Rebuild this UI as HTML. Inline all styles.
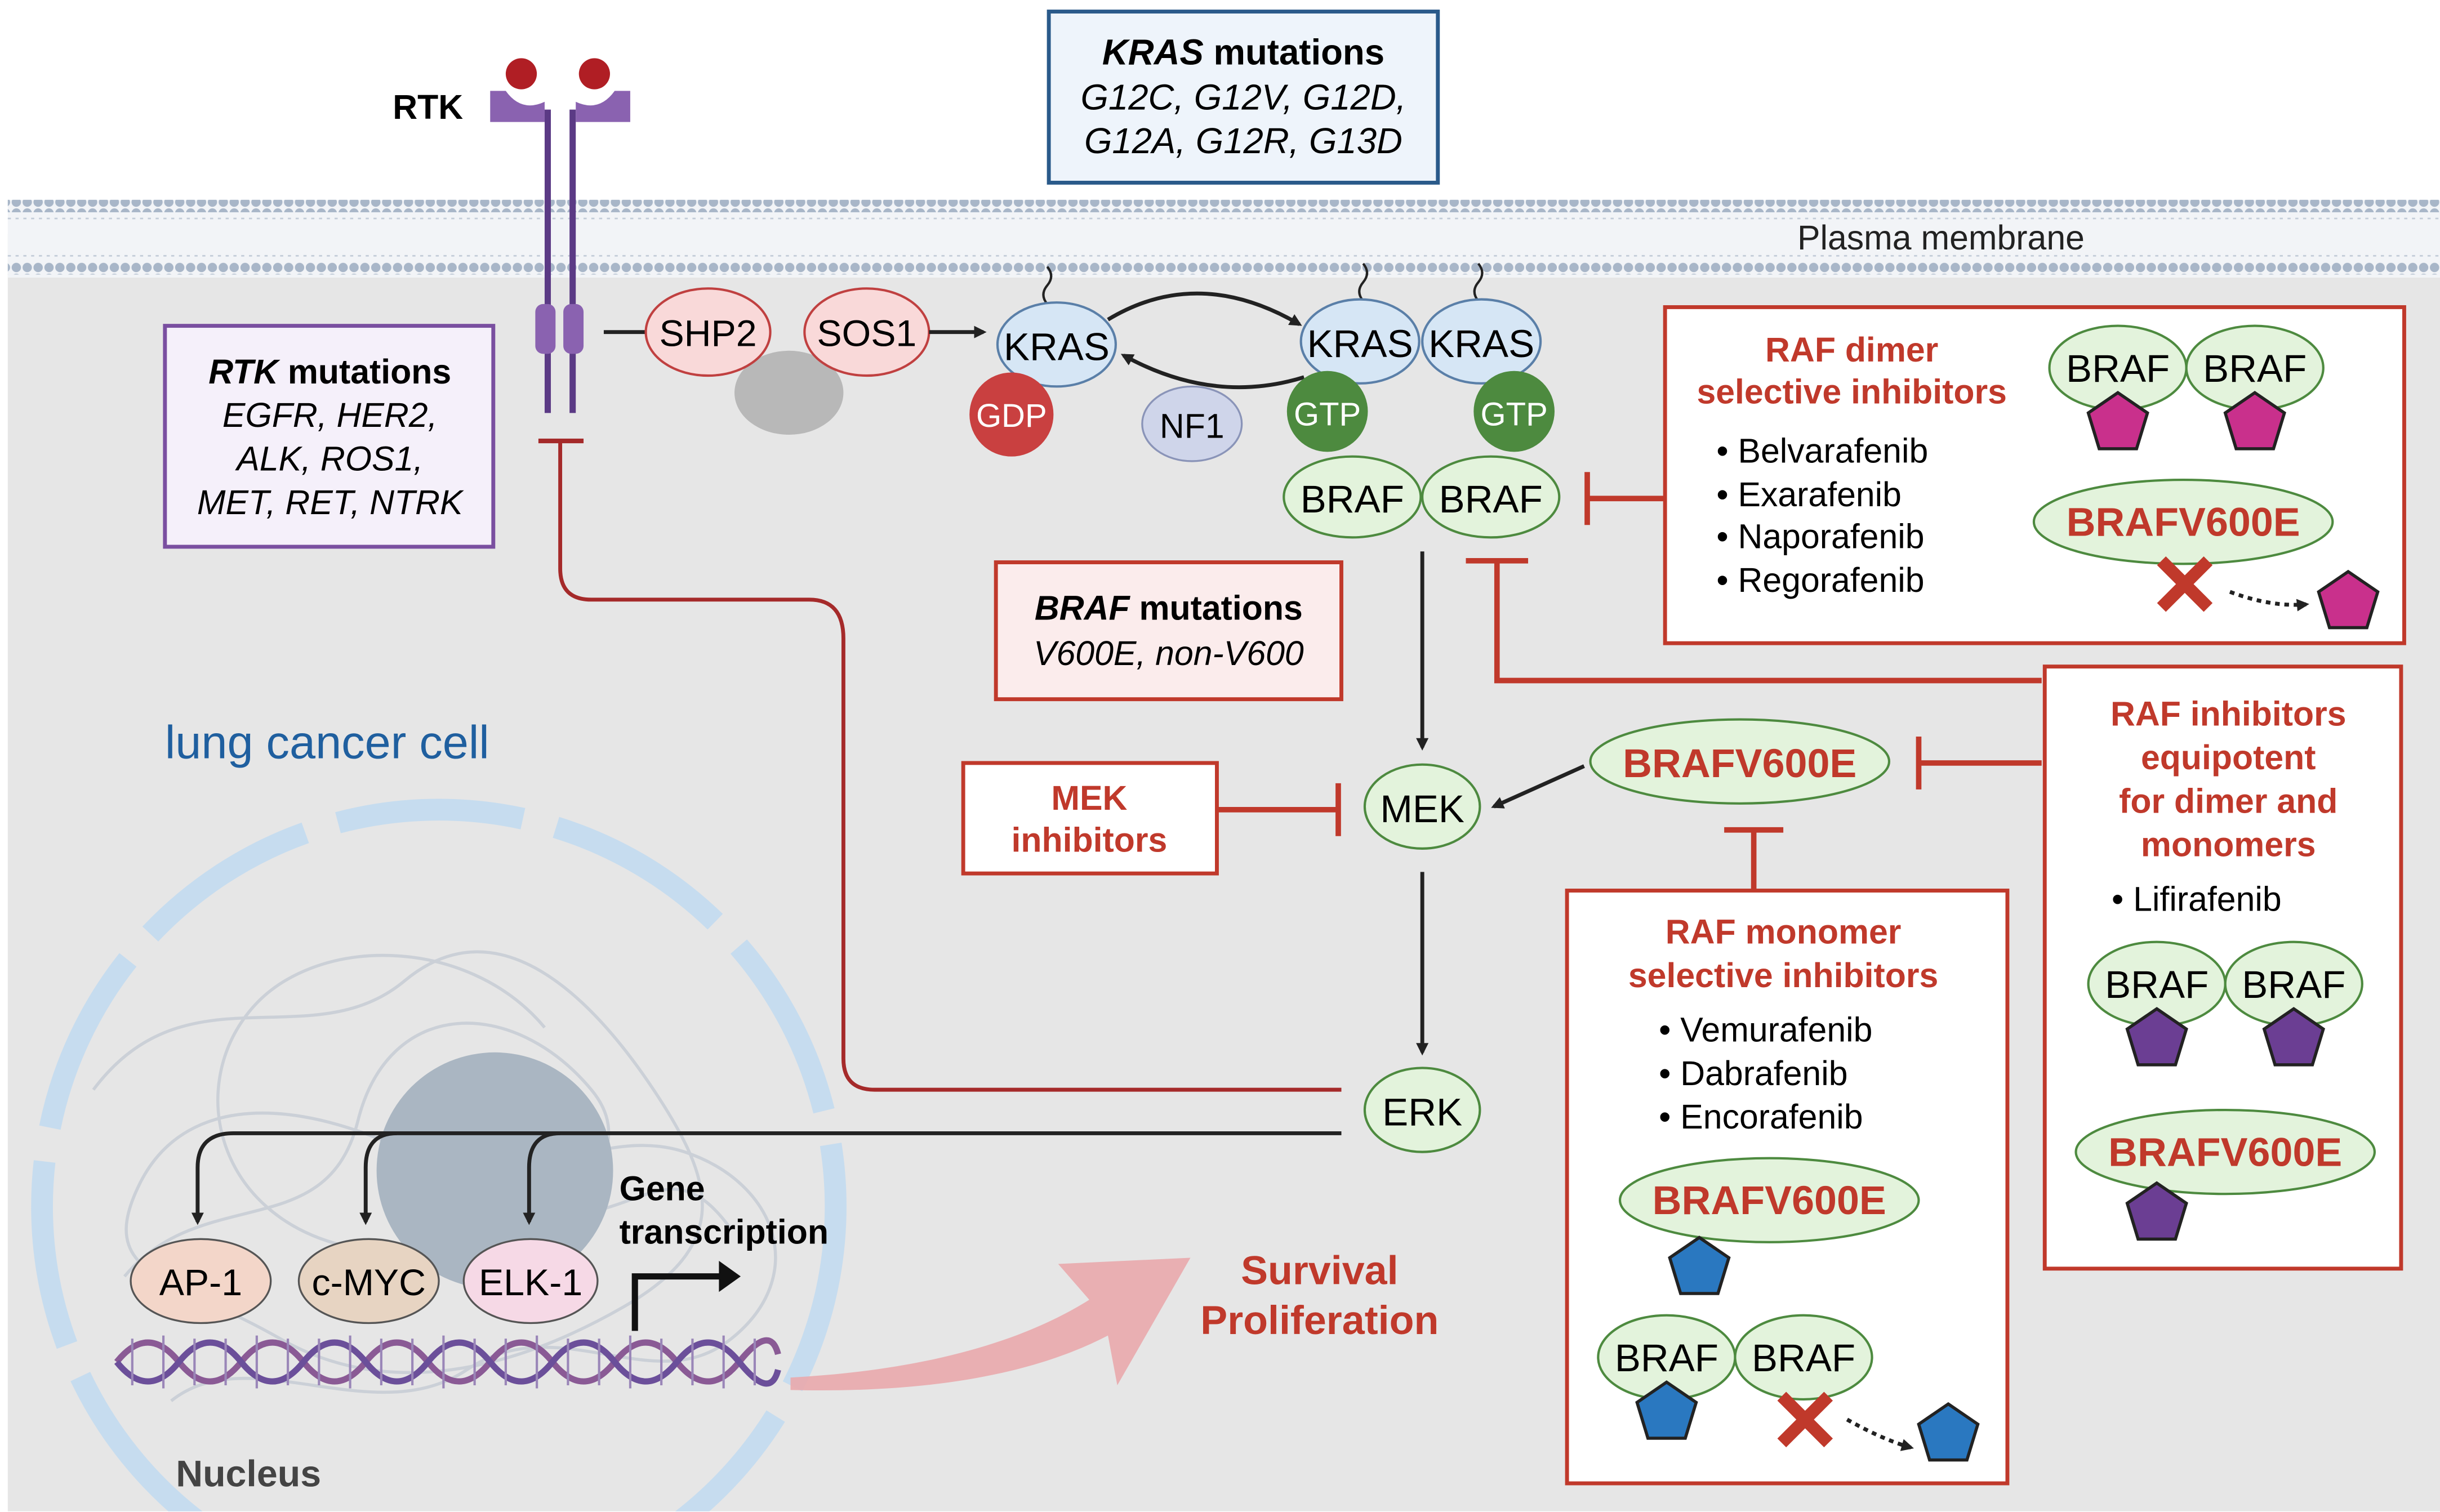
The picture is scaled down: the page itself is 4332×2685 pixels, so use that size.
<!DOCTYPE html>
<html><head><meta charset="utf-8"><style>
html,body{margin:0;padding:0;background:#fff;width:4332px;height:2685px;overflow:hidden}
svg{display:block;overflow:hidden}
text{font-family:"Liberation Sans",sans-serif}
</style></head><body>
<svg width="4332" height="2685" viewBox="0 0 1568 971" xmlns="http://www.w3.org/2000/svg">
<defs>
<clipPath id="clip"><rect x="0" y="0" width="1568" height="971"/></clipPath>
<marker id="ah" markerWidth="8" markerHeight="8" refX="6" refY="4" orient="auto" markerUnits="userSpaceOnUse"><path d="M0,0 L8,4 L0,8 z" fill="#222"/></marker>
<pattern id="dots" width="7" height="7" patternUnits="userSpaceOnUse"><circle cx="3.5" cy="3.5" r="3" fill="#a8b6c8"/></pattern>
</defs>
<g clip-path="url(#clip)">
<rect x="5" y="150" width="1563" height="821" fill="#e6e6e6"/>
<rect x="5" y="128" width="1563" height="50" fill="#f2f4f7"/>
<rect x="5" y="128" width="1563" height="8" fill="url(#dots)"/>
<rect x="5" y="168" width="1563" height="8" fill="url(#dots)"/>
<g stroke="#c3ccd8" stroke-width="1">
<path d="M5,140 H1568 M5,164 H1568" stroke-dasharray="2 3"/>
</g>
<text x="1155" y="160" font-size="22" fill="#222">Plasma membrane</text>
<circle cx="282" cy="775" r="255" fill="none" stroke="#c6dcef" stroke-width="14" stroke-dasharray="120 22"/>
<g fill="none" stroke="#c9ced6" stroke-width="2" opacity="0.9">
<path d="M60,700 C120,620 200,680 260,630 S380,640 420,700 S470,800 400,840 S250,900 180,860 S60,820 90,760 S200,700 300,760 S420,720 470,790"/>
<path d="M80,820 C130,760 210,800 230,720 S330,640 380,700 S300,820 220,800 S120,700 160,650 S300,600 350,660"/>
<path d="M110,900 C160,860 240,920 300,880 S420,900 470,860 S500,760 440,740 S320,780 260,740"/>
</g>
<circle cx="318" cy="752" r="76" fill="#aab6c2"/>
<text x="113" y="955" font-size="24" font-weight="bold" fill="#444">Nucleus</text>
<text x="106" y="487" font-size="30" fill="#1f5f9f">lung cancer cell</text>
<g fill="none" stroke-width="4">
<path d="M75,875 Q95,850 115,875 T155,875 T195,875 T235,875 T275,875 T315,875 T355,875 T395,875 T435,875 T475,875 T500,870" stroke="#8a5a95"/>
<path d="M75,875 Q95,900 115,875 T155,875 T195,875 T235,875 T275,875 T315,875 T355,875 T395,875 T435,875 T475,875 T500,880" stroke="#6b4f9a"/>
</g>
<g stroke="#9a86b8" stroke-width="1.5"><path d="M85,860V890M105,858V892M125,860V890M145,860V890M165,858V892M185,860V890M205,860V890M225,858V892M245,860V890M265,860V890M285,858V892M305,860V890M325,860V890M345,858V892M365,860V890M385,860V890M405,858V892M425,860V890M445,860V890M465,858V892M485,860V890"/></g>
<path d="M508,885 C600,880 660,860 700,835 L680,812 L765,808 L718,890 L712,858 C660,885 590,895 508,893 z" fill="#e9a9ac" opacity="0.9"/>
<text x="848" y="825" font-size="26" font-weight="bold" fill="#c0392b" text-anchor="middle">Survival</text>
<text x="848" y="857" font-size="26" font-weight="bold" fill="#c0392b" text-anchor="middle">Proliferation</text>
<g stroke="#555" stroke-width="1.2">
<ellipse cx="129" cy="823" rx="45" ry="27" fill="#f3d6c9"/>
<ellipse cx="237" cy="823" rx="45" ry="27" fill="#e7d4c2"/>
<ellipse cx="341" cy="823" rx="43" ry="27" fill="#f6d9e6"/>
</g>
<text x="129" y="832" font-size="24" text-anchor="middle">AP-1</text>
<text x="237" y="832" font-size="24" text-anchor="middle">c-MYC</text>
<text x="341" y="832" font-size="24" text-anchor="middle">ELK-1</text>
<path d="M408,855 V820 H466" fill="none" stroke="#111" stroke-width="4"/><path d="M462,810 L476,820 L462,830z" fill="#111"/>
<text x="398" y="771" font-size="22" font-weight="bold">Gene</text>
<text x="398" y="799" font-size="22" font-weight="bold">transcription</text>
<g fill="none" stroke="#222" stroke-width="2.5">
<path d="M862,728 H150 Q127,728 127,750 V785" marker-end="url(#ah)"/>
<path d="M255,728 Q235,728 235,750 V785" marker-end="url(#ah)"/>
<path d="M360,728 Q340,728 340,750 V785" marker-end="url(#ah)"/>
</g>
<path d="M862,700 H562 Q542,700 542,680 V410 Q542,385 520,385 H380 Q360,385 360,365 V283" fill="none" stroke="#a52a2a" stroke-width="2.5"/>
<path d="M346,283 H375" stroke="#a52a2a" stroke-width="3"/>
<text x="275" y="76" font-size="22" font-weight="bold" text-anchor="middle">RTK</text>
<g stroke="#5b3a85" stroke-width="4"><path d="M352,70V265M368,70V265"/></g>
<path d="M315,58 V78 H350 V65 Q335,72 325,58z" fill="#8a62b0"/>
<path d="M405,58 V78 H370 V65 Q385,72 395,58z" fill="#8a62b0"/>
<circle cx="335" cy="47" r="10" fill="#b01e24"/><circle cx="382" cy="47" r="10" fill="#b01e24"/>
<rect x="344" y="195" width="13" height="32" rx="5" fill="#8a62b0"/><rect x="362" y="195" width="13" height="32" rx="5" fill="#8a62b0"/>
<rect x="674" y="7" width="250" height="110" fill="#eef4fb" stroke="#2a5a8a" stroke-width="2.5"/>
<text x="799" y="41" font-size="23" text-anchor="middle"><tspan font-weight="bold" font-style="italic">KRAS</tspan><tspan font-weight="bold"> mutations</tspan></text>
<text x="799" y="70" font-size="23" font-style="italic" text-anchor="middle">G12C, G12V, G12D,</text>
<text x="799" y="98" font-size="23" font-style="italic" text-anchor="middle">G12A, G12R, G13D</text>
<rect x="106" y="209" width="211" height="142" fill="#f5f0fa" stroke="#7a4fa0" stroke-width="2.5"/>
<text x="212" y="246" font-size="22" text-anchor="middle" font-weight="bold"><tspan font-style="italic">RTK</tspan> mutations</text>
<text x="212" y="274" font-size="22" font-style="italic" text-anchor="middle">EGFR, HER2,</text>
<text x="212" y="302" font-size="22" font-style="italic" text-anchor="middle">ALK, ROS1,</text>
<text x="212" y="330" font-size="22" font-style="italic" text-anchor="middle">MET, RET, NTRK</text>
<rect x="640" y="361" width="222" height="88" fill="#fbecec" stroke="#c0392b" stroke-width="2.5"/>
<text x="751" y="398" font-size="22" text-anchor="middle" font-weight="bold"><tspan font-style="italic">BRAF</tspan> mutations</text>
<text x="751" y="427" font-size="22" font-style="italic" text-anchor="middle">V600E, non-V600</text>
<rect x="619" y="490" width="163" height="71" fill="#fff" stroke="#c0392b" stroke-width="2.5"/>
<text x="700" y="520" font-size="22" font-weight="bold" fill="#c0392b" text-anchor="middle">MEK</text>
<text x="700" y="547" font-size="22" font-weight="bold" fill="#c0392b" text-anchor="middle">inhibitors</text>
<path d="M388,213 H415" stroke="#222" stroke-width="2.5"/>
<ellipse cx="507" cy="252" rx="35" ry="27" fill="#b8b8b8"/>
<ellipse cx="455" cy="213" rx="40" ry="28" fill="#f9d9d9" stroke="#c04040" stroke-width="1.5"/>
<ellipse cx="557" cy="213" rx="40" ry="28" fill="#f9d9d9" stroke="#c04040" stroke-width="1.5"/>
<text x="455" y="222" font-size="24" text-anchor="middle">SHP2</text>
<text x="557" y="222" font-size="24" text-anchor="middle">SOS1</text>
<path d="M597,213 H632" stroke="#222" stroke-width="2.5" marker-end="url(#ah)"/>
<g fill="none" stroke="#222" stroke-width="1.5"><path d="M673,195 q-5,-6 0,-12 q5,-6 0,-12"/><path d="M876,193 q-5,-6 0,-12 q5,-6 0,-12"/><path d="M950,193 q-5,-6 0,-12 q5,-6 0,-12"/></g>
<path d="M712,205 Q770,170 835,208" fill="none" stroke="#222" stroke-width="2.5" marker-end="url(#ah)"/>
<path d="M838,242 Q780,260 722,228" fill="none" stroke="#222" stroke-width="2.5" marker-end="url(#ah)"/>
<ellipse cx="766" cy="272" rx="32" ry="24" fill="#cfd5ea" stroke="#8a94b8" stroke-width="1.2"/>
<text x="766" y="281" font-size="22" text-anchor="middle">NF1</text>
<ellipse cx="679" cy="221" rx="38" ry="27" fill="#d6e6f5" stroke="#5a7fa8" stroke-width="1.5"/>
<text x="679" y="231" font-size="25" text-anchor="middle">KRAS</text>
<circle cx="650" cy="266" r="27" fill="#c94040"/>
<text x="650" y="274" font-size="21" fill="#fff" text-anchor="middle">GDP</text>
<ellipse cx="874" cy="219" rx="38" ry="27" fill="#d6e6f5" stroke="#5a7fa8" stroke-width="1.5"/>
<ellipse cx="952" cy="219" rx="38" ry="27" fill="#d6e6f5" stroke="#5a7fa8" stroke-width="1.5"/>
<text x="874" y="229" font-size="25" text-anchor="middle">KRAS</text>
<text x="952" y="229" font-size="25" text-anchor="middle">KRAS</text>
<circle cx="853" cy="264" r="26" fill="#4d8a3f"/><circle cx="973" cy="264" r="26" fill="#4d8a3f"/>
<text x="853" y="273" font-size="21" fill="#fff" text-anchor="middle">GTP</text>
<text x="973" y="273" font-size="21" fill="#fff" text-anchor="middle">GTP</text>
<g stroke="#4d8a3f" stroke-width="1.5" fill="#e3f3dc">
<ellipse cx="869" cy="319" rx="44" ry="26"/><ellipse cx="958" cy="319" rx="44" ry="26"/>
<ellipse cx="914" cy="518" rx="37" ry="27"/><ellipse cx="914" cy="713" rx="37" ry="27"/>
<ellipse cx="1118" cy="489" rx="96" ry="27"/>
</g>
<text x="869" y="329" font-size="25" text-anchor="middle">BRAF</text>
<text x="958" y="329" font-size="25" text-anchor="middle">BRAF</text>
<text x="914" y="528" font-size="25" text-anchor="middle">MEK</text>
<text x="914" y="723" font-size="25" text-anchor="middle">ERK</text>
<text x="1118" y="499" font-size="26" font-weight="bold" fill="#c0392b" text-anchor="middle">BRAFV600E</text>
<path d="M914,354 V480" stroke="#222" stroke-width="2.5" marker-end="url(#ah)"/>
<path d="M914,560 V676" stroke="#222" stroke-width="2.5" marker-end="url(#ah)"/>
<path d="M1018,492 L960,518" stroke="#222" stroke-width="2.5" marker-end="url(#ah)"/>
<g stroke="#c0392b" stroke-width="3.5" fill="none">
<path d="M782,520 H860 M860,503 V537"/>
<path d="M1070,320 H1020 M1020,303 V337"/>
<path d="M1312,437 H962 V360 M942,360 H982"/>
<path d="M1312,490 H1233 M1233,473 V507"/>
<path d="M1127,572 V533 M1108,533 H1146"/>
</g>
<rect x="1070" y="197" width="475" height="216" fill="#fff" stroke="#c0392b" stroke-width="2.5"/>
<text x="1190" y="232" font-size="22" font-weight="bold" fill="#c0392b" text-anchor="middle">RAF dimer</text>
<text x="1190" y="259" font-size="22" font-weight="bold" fill="#c0392b" text-anchor="middle">selective inhibitors</text>
<g font-size="22"><text x="1103" y="297">•  Belvarafenib</text><text x="1103" y="325">•  Exarafenib</text><text x="1103" y="352">•  Naporafenib</text><text x="1103" y="380">•  Regorafenib</text></g>
<g stroke="#4d8a3f" stroke-width="1.5" fill="#e3f3dc">
<ellipse cx="1361" cy="236" rx="44" ry="27"/><ellipse cx="1449" cy="236" rx="44" ry="27"/>
<ellipse cx="1403" cy="335" rx="96" ry="27"/>
</g>
<text x="1361" y="245" font-size="25" text-anchor="middle">BRAF</text><text x="1449" y="245" font-size="25" text-anchor="middle">BRAF</text>
<text x="1403" y="344" font-size="26" font-weight="bold" fill="#c0392b" text-anchor="middle">BRAFV600E</text>
<g fill="#c9308c" stroke="#222" stroke-width="2">
<path d="M1361,252 l19,13 -7,23 h-24 l-7,-23z"/><path d="M1449,252 l19,13 -7,23 h-24 l-7,-23z"/><path d="M1509,367 l19,13 -7,23 h-24 l-7,-23z"/>
</g>
<path d="M1389,360 l30,30 M1419,360 l-30,30" stroke="#c0392b" stroke-width="8"/>
<path d="M1433,380 Q1460,390 1482,388" fill="none" stroke="#222" stroke-width="2.5" stroke-dasharray="3 3" marker-end="url(#ah)"/>
<rect x="1314" y="428" width="229" height="387" fill="#fff" stroke="#c0392b" stroke-width="2.5"/>
<g font-size="22" font-weight="bold" fill="#c0392b" text-anchor="middle">
<text x="1432" y="466">RAF inhibitors</text><text x="1432" y="494">equipotent</text><text x="1432" y="522">for dimer and</text><text x="1432" y="550">monomers</text></g>
<text x="1357" y="585" font-size="22">•  Lifirafenib</text>
<g stroke="#4d8a3f" stroke-width="1.5" fill="#e3f3dc">
<ellipse cx="1386" cy="632" rx="44" ry="27"/><ellipse cx="1474" cy="632" rx="44" ry="27"/>
<ellipse cx="1430" cy="740" rx="96" ry="27"/>
</g>
<text x="1386" y="641" font-size="25" text-anchor="middle">BRAF</text><text x="1474" y="641" font-size="25" text-anchor="middle">BRAF</text>
<text x="1430" y="749" font-size="26" font-weight="bold" fill="#c0392b" text-anchor="middle">BRAFV600E</text>
<g fill="#6b3e93" stroke="#222" stroke-width="2">
<path d="M1386,648 l19,13 -7,23 h-24 l-7,-23z"/><path d="M1474,648 l19,13 -7,23 h-24 l-7,-23z"/><path d="M1386,760 l19,13 -7,23 h-24 l-7,-23z"/>
</g>
<rect x="1007" y="572" width="283" height="381" fill="#fff" stroke="#c0392b" stroke-width="2.5"/>
<text x="1146" y="606" font-size="22" font-weight="bold" fill="#c0392b" text-anchor="middle">RAF monomer</text>
<text x="1146" y="634" font-size="22" font-weight="bold" fill="#c0392b" text-anchor="middle">selective inhibitors</text>
<g font-size="22"><text x="1066" y="669">•  Vemurafenib</text><text x="1066" y="697">•  Dabrafenib</text><text x="1066" y="725">•  Encorafenib</text></g>
<g stroke="#4d8a3f" stroke-width="1.5" fill="#e3f3dc">
<ellipse cx="1137" cy="771" rx="96" ry="27"/>
<ellipse cx="1071" cy="872" rx="44" ry="27"/><ellipse cx="1159" cy="872" rx="44" ry="27"/>
</g>
<text x="1137" y="780" font-size="26" font-weight="bold" fill="#c0392b" text-anchor="middle">BRAFV600E</text>
<text x="1071" y="881" font-size="25" text-anchor="middle">BRAF</text><text x="1159" y="881" font-size="25" text-anchor="middle">BRAF</text>
<g fill="#2a78c0" stroke="#222" stroke-width="2">
<path d="M1092,795 l19,13 -7,23 h-24 l-7,-23z"/><path d="M1071,888 l19,13 -7,23 h-24 l-7,-23z"/><path d="M1252,902 l19,13 -7,23 h-24 l-7,-23z"/>
</g>
<path d="M1145,897 l30,30 M1175,897 l-30,30" stroke="#c0392b" stroke-width="8"/>
<path d="M1187,912 Q1210,925 1228,930" fill="none" stroke="#222" stroke-width="2.5" stroke-dasharray="3 3" marker-end="url(#ah)"/>
</g>
</svg>
</body></html>
